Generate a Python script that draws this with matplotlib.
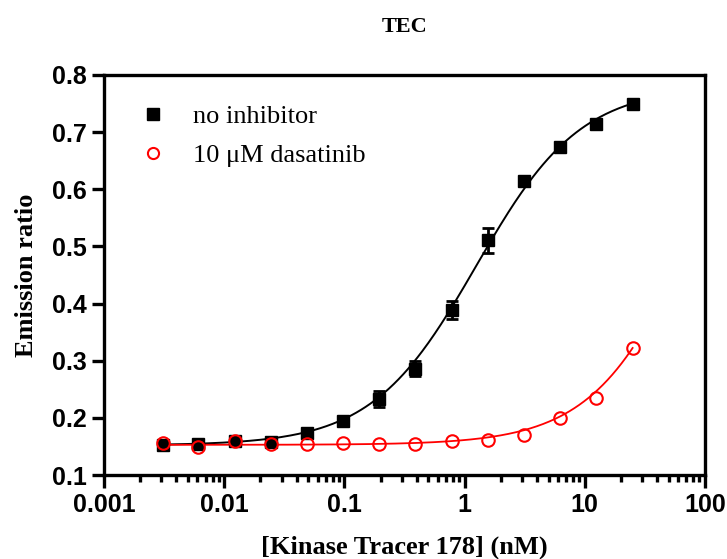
import numpy as np
import matplotlib.pyplot as plt
from matplotlib.lines import Line2D
from matplotlib.ticker import LogLocator, NullFormatter

# data (2-fold dilution of tracer, nM)
conc = [0.0031, 0.0061, 0.0122, 0.0244, 0.0488, 0.0977, 0.195, 0.39, 0.78, 1.5625, 3.125, 6.25, 12.5, 25]
no_inh = [0.152, 0.155, 0.159, 0.158, 0.173, 0.195, 0.234, 0.286, 0.389, 0.511, 0.614, 0.674, 0.714, 0.749]
no_inh_err = [0, 0, 0, 0, 0, 0, 0.014, 0.013, 0.016, 0.022, 0, 0, 0, 0]
dasat = [0.157, 0.150, 0.159, 0.154, 0.154, 0.157, 0.155, 0.154, 0.159, 0.162, 0.170, 0.200, 0.235, 0.322]

# 4PL fit params (bottom, top, ec50, hill)
fit_black = (0.152, 0.78, 1.25, 1.0)
fit_red = (0.153, 1.0, 100.0, 1.0)

def four_pl(x, b, t, c, h):
    return b + (t - b) / (1 + (c / x) ** h)

serif = 'Liberation Serif'
sans = 'Liberation Sans'

fig = plt.figure(figsize=(7.27, 5.59), dpi=100)
ax = fig.add_axes([0.1430, 0.150, 0.8267, 0.716])

xs = np.logspace(np.log10(conc[0]), np.log10(conc[-1]), 300)
ax.plot(xs, four_pl(xs, *fit_black), color='black', lw=1.4, zorder=2)
ax.plot(xs, four_pl(xs, *fit_red), color='red', lw=1.3, zorder=2)

# only points with visible error bars
idx = [i for i, e in enumerate(no_inh_err) if e > 0]
ax.errorbar([conc[i] for i in idx], [no_inh[i] for i in idx], yerr=[no_inh_err[i] for i in idx],
            fmt='none', ecolor='black', capsize=4.5, capthick=2, elinewidth=2, zorder=3)
ax.plot(conc, no_inh, 's', color='black', ms=8.5, zorder=3)
ax.plot(conc, dasat, 'o', mfc='none', mec='red', mew=1.5, ms=9, zorder=4)

ax.set_xscale('log')
ax.set_xlim(0.001, 100)
ax.set_ylim(0.1, 0.8)
ax.set_yticks(np.arange(0.1, 0.81, 0.1))
ax.set_yticklabels(['%.1f' % v for v in np.arange(0.1, 0.81, 0.1)])
ax.set_xticks([0.001, 0.01, 0.1, 1, 10, 100])
ax.set_xticklabels(['0.001', '0.01', '0.1', '1', '10', '100'])
ax.xaxis.set_minor_locator(LogLocator(base=10, subs=np.arange(2, 10)))
ax.xaxis.set_minor_formatter(NullFormatter())

for s in ax.spines.values():
    s.set_linewidth(2.4)
ax.tick_params(which='major', direction='out', length=9, width=2.4)
ax.tick_params(which='minor', direction='out', length=5, width=2.4)
for lab in ax.get_xticklabels() + ax.get_yticklabels():
    lab.set_fontfamily(sans)
    lab.set_fontweight('bold')
    lab.set_fontsize(18)

ax.set_title('TEC', fontfamily=serif, fontweight='bold', fontsize=16, pad=31)
ax.set_xlabel('[Kinase Tracer 178] (nM)', fontfamily=serif, fontweight='bold', fontsize=19, labelpad=14)
ax.set_ylabel('Emission ratio', fontfamily=serif, fontweight='bold', fontsize=19, labelpad=10)

handles = [Line2D([], [], ls='none', marker='s', color='black', ms=8),
           Line2D([], [], ls='none', marker='o', mfc='none', mec='red', mew=1.5, ms=8)]
ax.legend(handles, ['no inhibitor', '10 \u03bcM dasatinib'], loc='upper left',
          bbox_to_anchor=(0.02, 0.985), frameon=False, handlelength=1.0,
          handletextpad=1.0, labelspacing=0.6,
          prop={'family': serif, 'size': 19})

fig.savefig('out.png', dpi=100)
